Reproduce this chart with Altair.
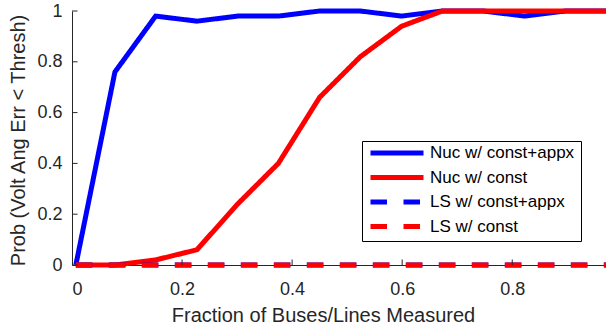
import altair as alt
import pandas as pd

# ---- data ----
frac = [0.007, 0.078, 0.152, 0.227, 0.301, 0.375, 0.45, 0.524, 0.599, 0.673, 0.748, 0.822, 0.897, 0.971]
nuc_const_appx = [0.0, 0.76, 0.98, 0.96, 0.98, 0.98, 1.0, 1.0, 0.98, 1.0, 1.0, 0.98, 1.0, 1.0]
nuc_const = [0.0, 0.0, 0.02, 0.06, 0.24, 0.40, 0.66, 0.82, 0.94, 1.0, 1.0, 1.0, 1.0, 1.0]
ls_const_appx = [0.0] * 14
ls_const = [0.0] * 14

series_names = ["Nuc w/ const+appx", "Nuc w/ const", "LS w/ const+appx", "LS w/ const"]
series_colors = ["#0000ff", "#ff0000", "#0000ff", "#ff0000"]
series_dash = [[1, 0], [1, 0], [16.5, 16.5], [16.5, 16.5]]

x_ticks = [0, 0.2, 0.4, 0.6, 0.8]
y_ticks = [0, 0.2, 0.4, 0.6, 0.8, 1.0]

rows = []
for name, vals in zip(series_names, [nuc_const_appx, nuc_const, ls_const_appx, ls_const]):
    for xv, yv in zip(frac, vals):
        rows.append({"series": name, "x": xv, "y": yv})
df = pd.DataFrame(rows)

FONT = "Liberation Sans"
AX = "#262626"

xscale = alt.Scale(domain=[0, 0.9704], nice=False, zero=False)
yscale = alt.Scale(domain=[0, 1], nice=False)

color = alt.Color(
    "series:N",
    scale=alt.Scale(domain=series_names, range=series_colors),
    legend=alt.Legend(
        title=None,
        orient="none",
        legendX=290,
        legendY=130,
        strokeColor="black",
        fillColor="white",
        padding=6,
        symbolType="stroke",
        symbolSize=2809,
        symbolStrokeWidth=5,
        labelFont=FONT,
        labelFontSize=17,
        labelColor="black",
        labelOffset=4,
        clipHeight=12,
        rowPadding=7.5,
    ),
)
dash = alt.StrokeDash(
    "series:N",
    scale=alt.Scale(domain=series_names, range=series_dash),
    legend=alt.Legend(title=None),
)

xaxis = alt.Axis(
    values=x_ticks, format="~g", ticks=False, grid=False,
    domainColor=AX, labelColor=AX, labelFont=FONT, labelFontSize=18,
    labelBaseline="alphabetic", labelPadding=29,
    title="Fraction of Buses/Lines Measured", titleFont=FONT, titleFontSize=20,
    titleFontWeight="normal", titleColor=AX, titleX=251, titleY=56,
    titleBaseline="alphabetic",
)
yaxis = alt.Axis(
    values=y_ticks, format="~g", ticks=False, grid=False,
    domainColor=AX, labelColor=AX, labelFont=FONT, labelFontSize=18,
    labelPadding=10,
    title="Prob (Volt Ang Err < Thresh)", titleFont=FONT, titleFontSize=20,
    titleFontWeight="normal", titleColor=AX, titleX=-48, titleY=129,
    titleBaseline="alphabetic", titleAngle=-90,
)

X = alt.X("x:Q", scale=xscale, axis=xaxis)
Y = alt.Y("y:Q", scale=yscale, axis=yaxis)

base = alt.Chart(df)

layers = []
for name in series_names:
    layers.append(
        base.transform_filter(alt.datum.series == name)
        .mark_line(strokeWidth=5, clip=False)
        .encode(x=X, y=Y, color=color, strokeDash=dash)
    )

# inward ticks
xt = alt.Chart(pd.DataFrame({"x": x_ticks[1:]})).mark_rule(color=AX, strokeWidth=1).encode(
    x=X, y=alt.value(254), y2=alt.value(248.5)
)
yt = alt.Chart(pd.DataFrame({"y": y_ticks})).mark_rule(color=AX, strokeWidth=1).encode(
    y=Y, x=alt.value(0), x2=alt.value(5.5)
)

chart = (
    alt.layer(*layers, xt, yt)
    .properties(
        width=534,
        height=254,
        autosize=alt.AutoSizeParams(type="none"),
        padding={"left": 72, "top": 11, "right": 0, "bottom": 61},
        background="white",
    )
    .configure_view(stroke="transparent")
)

chart.save("out.html", embed_options={"renderer": "svg", "actions": False})
